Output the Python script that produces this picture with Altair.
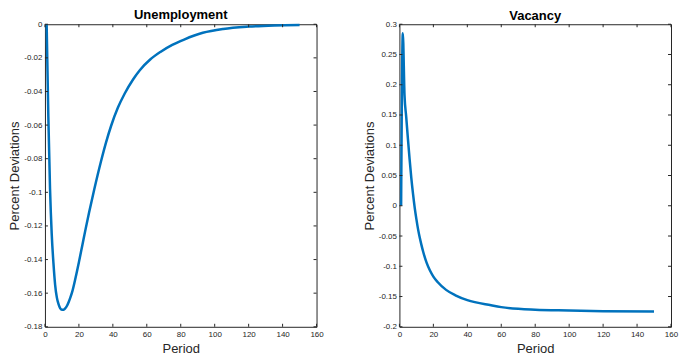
import altair as alt
import pandas as pd

# ---------------- data ----------------
u_period = [1, 2, 3, 4, 5, 6, 7, 8, 9, 10, 11, 12, 13, 14, 15, 16, 18, 20, 22, 24,
            26, 29, 33, 36, 39, 43, 47, 52, 56, 62, 68, 75, 82, 93, 105, 120, 135, 150]
u_value = [0, -0.055, -0.098, -0.125, -0.142, -0.155, -0.1625, -0.1665, -0.169, -0.1698,
           -0.1698, -0.169, -0.1675, -0.1652, -0.1625, -0.1594, -0.151, -0.1416, -0.1316,
           -0.1216, -0.112, -0.0985, -0.0817, -0.0703, -0.0604, -0.0496, -0.0412, -0.0327,
           -0.0272, -0.021, -0.0165, -0.0123, -0.0091, -0.0051, -0.0028, -0.0014, -0.0007,
           -0.0004]

v_period = [1, 2, 3, 4, 5, 6, 7, 8, 9, 10, 11, 12, 13, 14, 16, 18, 20, 22.5, 27.5, 33,
            40, 54, 60, 80, 100, 120, 150]
v_value = [0, 0.285, 0.183, 0.147, 0.111, 0.077, 0.046, 0.02, -0.003, -0.022, -0.039,
           -0.053, -0.065, -0.076, -0.094, -0.107, -0.117, -0.126, -0.139, -0.148,
           -0.156, -0.1645, -0.1675, -0.1717, -0.173, -0.1742, -0.1748]

x_ticks = [0, 20, 40, 60, 80, 100, 120, 140, 160]
u_yticks = [0, -0.02, -0.04, -0.06, -0.08, -0.1, -0.12, -0.14, -0.16, -0.18]
v_yticks = [-0.2, -0.15, -0.1, -0.05, 0, 0.05, 0.1, 0.15, 0.2, 0.25, 0.3]

titles = ["Unemployment", "Vacancy"]
x_title = "Period"
y_title = "Percent Deviations"

# ---------------- style ----------------
W, H = 272, 303
TL = 3
FONT = "Liberation Sans"
AX = "#262626"
LINE = "#0072BD"


def panel(periods, values, title, ydomain, yticks):
    df = pd.DataFrame({"period": periods, "value": values})
    xs = alt.Scale(domain=[0, 160], nice=False, zero=False)
    ys = alt.Scale(domain=ydomain, nice=False, zero=False)
    xa = alt.Axis(values=x_ticks, title=x_title, labelFlush=False, labelOverlap=False,
                  labelPadding=4, titlePadding=4)
    ya = alt.Axis(values=yticks, title=y_title, labelOverlap=False,
                  labelExpr="toString(datum.value)")

    line = alt.Chart(df).mark_line(
        color=LINE, strokeWidth=2.5, interpolate="monotone"
    ).encode(
        x=alt.X("period:Q", scale=xs, axis=xa),
        y=alt.Y("value:Q", scale=ys, axis=ya),
    )

    ydf = pd.DataFrame({"value": yticks})
    xdf = pd.DataFrame({"period": x_ticks})
    yl = alt.Chart(ydf).mark_rule(color=AX, strokeWidth=1).encode(
        y=alt.Y("value:Q", scale=ys, axis=ya), x=alt.value(0), x2=alt.value(TL))
    yr = alt.Chart(ydf).mark_rule(color=AX, strokeWidth=1).encode(
        y=alt.Y("value:Q", scale=ys, axis=ya), x=alt.value(W - TL), x2=alt.value(W))
    xb = alt.Chart(xdf).mark_rule(color=AX, strokeWidth=1).encode(
        x=alt.X("period:Q", scale=xs, axis=xa), y=alt.value(H - TL), y2=alt.value(H))
    xt = alt.Chart(xdf).mark_rule(color=AX, strokeWidth=1).encode(
        x=alt.X("period:Q", scale=xs, axis=xa), y=alt.value(0), y2=alt.value(TL))

    return alt.layer(line, yl, yr, xb, xt).properties(
        width=W, height=H, title=title)


left = panel(u_period, u_value, titles[0], [-0.18, 0], u_yticks)
right = panel(v_period, v_value, titles[1], [-0.2, 0.3], v_yticks)

chart = alt.hconcat(left, right, spacing=38).properties(
    padding=0, background="white"
).configure_view(
    stroke=AX, strokeWidth=1
).configure_axis(
    domain=False, ticks=False, grid=False,
    labelFont=FONT, labelFontSize=8, labelColor=AX, labelPadding=3,
    titleFont=FONT, titleFontSize=13, titleFontWeight="normal", titleColor=AX,
    titlePadding=2,
).configure_title(
    font=FONT, fontSize=13, fontWeight="bold", color="black", anchor="middle",
    frame="group", offset=-2.5,
)

chart.save("out.html", embed_options={"renderer": "svg", "actions": False})
